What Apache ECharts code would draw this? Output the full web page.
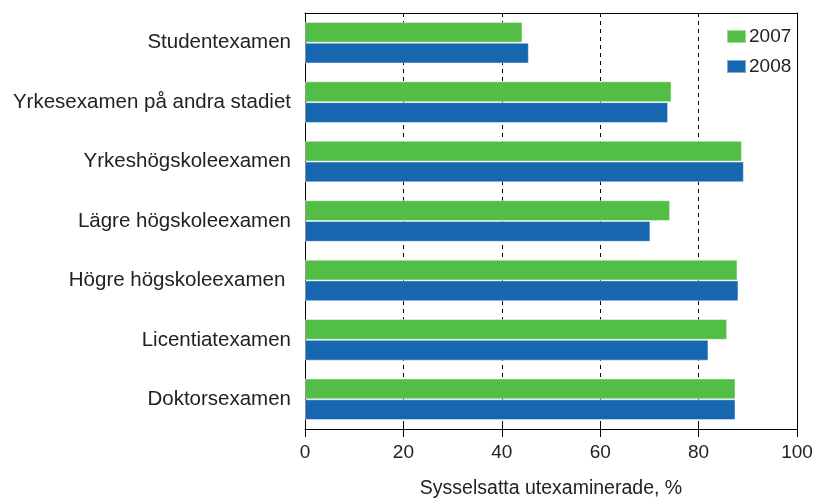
<!DOCTYPE html>
<html>
<head>
<meta charset="utf-8">
<script src="https://cdn.jsdelivr.net/npm/echarts@6/dist/echarts.min.js"></script>
<style>
html,body{margin:0;padding:0;background:#fff;}
#c{width:814px;height:498px;}
</style>
</head>
<body>
<div id="c"></div>
<script>
const categories = ["Studentexamen","Yrkesexamen på andra stadiet","Yrkeshögskoleexamen","Lägre högskoleexamen","Högre högskoleexamen ","Licentiatexamen","Doktorsexamen"];
const values2007 = [44.2, 74.5, 88.8, 74.2, 87.9, 85.8, 87.5];
const values2008 = [45.5, 73.8, 89.2, 70.2, 88.1, 82.0, 87.5];
const seriesNames = ["2007","2008"];
const xTicks = [0,20,40,60,80,100];

const FONT = "'Liberation Sans', Arial, sans-serif";
const chart = echarts.init(document.getElementById('c'), null, {renderer:'canvas'});
chart.setOption({
  animation:false,
  backgroundColor:'#fff',
  textStyle:{fontFamily:FONT},
  grid:{left:305,right:17,top:13,bottom:69,containLabel:false,outerBoundsMode:'none'},
  legend:{
    orient:'vertical', left:721, top:22,
    itemWidth:19, itemHeight:13, itemGap:11,
    icon:'rect',
    textStyle:{fontFamily:FONT,fontSize:19,color:'#222',padding:[0,0,0,-2]},
    data:seriesNames
  },
  xAxis:[{
    type:'value', min:xTicks[0], max:xTicks[xTicks.length-1], interval:20,
    axisLine:{show:true,onZero:false,lineStyle:{color:'#000',width:1}},
    axisTick:{show:true,length:8,lineStyle:{color:'#000'}},
    axisLabel:{fontFamily:FONT,fontSize:19,color:'#222',margin:14},
    splitLine:{show:true,showMinLine:false,showMaxLine:false,lineStyle:{color:'#000',type:[4,4],width:1}},
    name:'Sysselsatta utexaminerade, %',
    nameLocation:'middle', nameGap:50,
    nameTextStyle:{fontFamily:FONT,fontSize:19.5,color:'#222'}
  },{
    type:'value', min:0, max:100, interval:20, position:'bottom',
    axisLine:{show:false,onZero:false}, axisLabel:{show:false}, splitLine:{show:false},
    axisTick:{show:true,inside:true,length:4,lineStyle:{color:'#000'}}
  },{
    type:'value', min:0, max:100, interval:20, position:'top',
    axisLine:{show:true,onZero:false,lineStyle:{color:'#000',width:1}}, axisLabel:{show:false}, splitLine:{show:false},
    axisTick:{show:false}
  }],
  yAxis:[{
    type:'category', data:categories, inverse:true,
    axisLine:{show:true,onZero:false,lineStyle:{color:'#000',width:1}},
    axisTick:{show:false},
    axisLabel:{fontFamily:FONT,fontSize:20.5,color:'#222',margin:14}
  },{
    type:'category', data:categories, inverse:true, position:'right',
    axisLine:{show:true,onZero:false,lineStyle:{color:'#000',width:1}},
    axisTick:{show:false}, axisLabel:{show:false}, splitLine:{show:false}
  }],
  series:[
    {name:seriesNames[0],type:'bar',data:values2007,barGap:'0%',barCategoryGap:'30%',
     itemStyle:{color:'#52BE45',borderColor:'rgba(255,255,255,0.45)',borderWidth:1}},
    {name:seriesNames[1],type:'bar',data:values2008,barGap:'0%',barCategoryGap:'30%',
     itemStyle:{color:'#1767B0',borderColor:'rgba(255,255,255,0.45)',borderWidth:1}}
  ]
});
</script>
</body>
</html>
